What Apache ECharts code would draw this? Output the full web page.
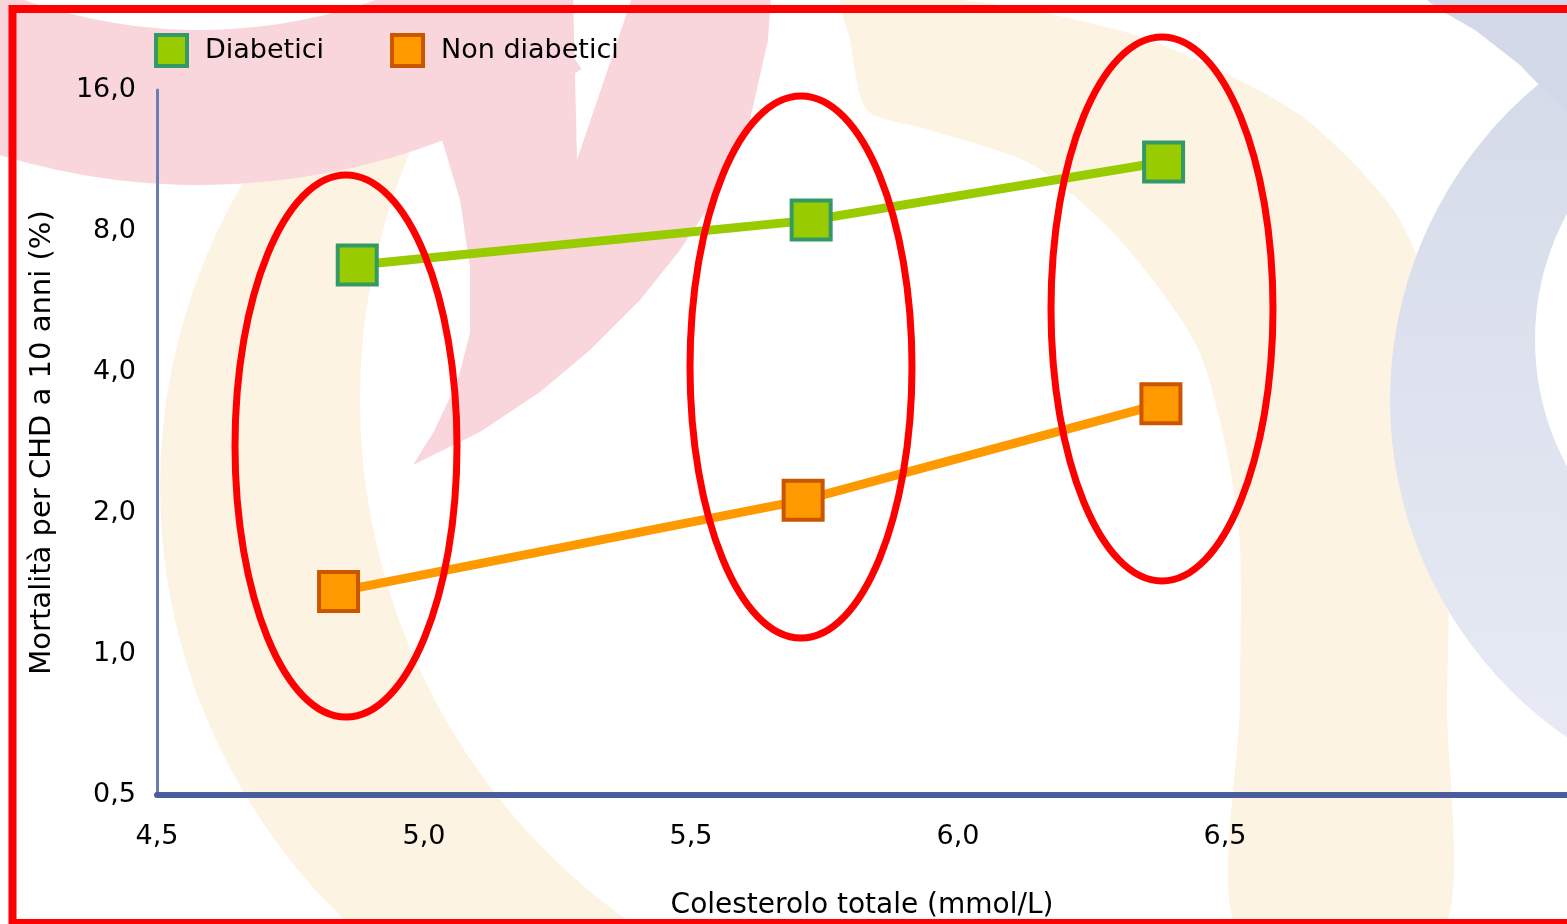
<!DOCTYPE html>
<html><head><meta charset="utf-8">
<script src="https://cdn.jsdelivr.net/npm/echarts@6/dist/echarts.min.js"></script>
<style>html,body{margin:0;padding:0;background:#fff}#chart{width:1567px;height:924px}</style>
</head><body><div id="chart"></div>
<script>
const seriesNames = ['Diabetici', 'Non diabetici'];
const cholesterolDiabetici = [4.875, 5.725, 6.385];
const mortalityDiabetici = [6.77, 8.44, 11.23];
const cholesterolNonDiabetici = [4.84, 5.71, 6.38];
const mortalityNonDiabetici = [1.36, 2.13, 3.42];
const xTickLabels = ['4,5', '5,0', '5,5', '6,0', '6,5'];
const yTickLabels = ['0,5', '1,0', '2,0', '4,0', '8,0', '16,0'];
const xAxisTitle = 'Colesterolo totale (mmol/L)';
const yAxisTitle = 'Mortalità per CHD a 10 anni (%)';

const FONT = 'DejaVu Sans';
const chart = echarts.init(document.getElementById('chart'), null, {renderer: 'canvas'});

function pairs(xs, ys) { return xs.map((x, i) => [x, ys[i]]); }
function fmt(v) { return v.toFixed(1).replace('.', ','); }

const cream = '#fdf3e3';
const pink = '#f9d6dc';
const bg = [
  // left cream crescent (outer disc minus inner white disc)
  {type: 'circle', silent: true, z: -30, shape: {cx: 760, cy: 487, r: 600}, style: {fill: cream}},
  {type: 'circle', silent: true, z: -29, shape: {cx: 1000, cy: 400, r: 640}, style: {fill: '#ffffff'}},
  // right cream band
  {type: 'polygon', silent: true, z: -28, shape: {smooth: 0.25, points: [[843,-5],[1000,5],[1150,40],[1300,115],[1397,215],[1440,330],[1450,480],[1447,700],[1440,935],[1240,935],[1240,700],[1238,520],[1200,353],[1120,240],[1033,165],[930,130],[867,110],[850,40]]}, style: {fill: cream}},
  // pink band and wedge
  {type: 'sector', silent: true, z: -20, shape: {cx: 200, cy: -500, r0: 530, r: 685, startAngle: 0.98, endAngle: 2.4}, style: {fill: pink}},
  {type: 'polygon', silent: true, z: -20, shape: {points: [[390,-5],[573,-5],[577,160],[633,-5],[771,-5],[768,40],[750,120],[720,190],[680,250],[640,300],[590,350],[540,392],[480,432],[413,465],[433,433],[457,383],[470,333],[470,267],[460,200],[440,133]]}, style: {fill: pink}},
  // blue ring
  {type: 'circle', silent: true, z: -16, shape: {cx: 1800, cy: 400, r: 410}, style: {fill: new echarts.graphic.LinearGradient(0, 0, 0, 1, [{offset: 0, color: '#d3d9e8'}, {offset: 1, color: '#e9ecf5'}])}},
  {type: 'polygon', silent: true, z: -16, shape: {points: [[1420,-5],[1567,-5],[1567,112],[1540,86],[1520,65],[1475,30],[1440,10]]}, style: {fill: '#d3d9e8'}},
  {type: 'circle', silent: true, z: -15, shape: {cx: 1800, cy: 340, r: 265}, style: {fill: '#ffffff'}}
];
const marks = [
  {type: 'ellipse', silent: true, z: 100, shape: {cx: 346, cy: 446, rx: 111, ry: 271}, style: {fill: null, stroke: '#ff0000', lineWidth: 7}},
  {type: 'ellipse', silent: true, z: 100, shape: {cx: 801, cy: 367, rx: 111, ry: 271}, style: {fill: null, stroke: '#ff0000', lineWidth: 7}},
  {type: 'ellipse', silent: true, z: 100, shape: {cx: 1162, cy: 309, rx: 111, ry: 272}, style: {fill: null, stroke: '#ff0000', lineWidth: 7}},
  {type: 'rect', silent: true, z: 110, shape: {x: 12.5, y: 9, width: 1600, height: 914}, style: {fill: null, stroke: '#ff0000', lineWidth: 8}}
];

const option = {
  backgroundColor: '#ffffff',
  animation: false,
  graphic: {elements: bg.concat(marks)},
  legend: {
    left: 154, top: 33, padding: 0,
    itemWidth: 31, itemHeight: 31, itemGap: 66,
    textStyle: {fontFamily: FONT, fontSize: 27, color: '#000', padding: [0, 0, 0, 13]},
    data: [
      {name: seriesNames[0], icon: 'rect', itemStyle: {color: '#99cc00', borderColor: '#339966', borderWidth: 4}},
      {name: seriesNames[1], icon: 'rect', itemStyle: {color: '#ff9900', borderColor: '#cc5500', borderWidth: 4}}
    ]
  },
  grid: {left: 157, right: 0, top: 90, bottom: 129, containLabel: false, outerBoundsMode: 'none'},
  xAxis: {
    type: 'value', min: 4.5, max: 4.5 + 1410 / 534, interval: 0.5,
    splitLine: {show: false},
    axisTick: {show: false},
    axisLine: {show: true, lineStyle: {color: '#4a5e9c', width: 6}},
    axisLabel: {
      fontFamily: FONT, fontSize: 27, color: '#000', margin: 28,
      formatter: v => { const i = Math.round((v - 4.5) / 0.5); return (Math.abs(v - (4.5 + i * 0.5)) < 1e-6 && i < xTickLabels.length) ? xTickLabels[i] : ''; }
    },
    name: xAxisTitle, nameLocation: 'middle', nameGap: 97,
    nameTextStyle: {fontFamily: FONT, fontSize: 28, color: '#000'}
  },
  yAxis: {
    type: 'log', logBase: 2, min: 0.5, max: 16,
    splitLine: {show: false},
    axisTick: {show: false},
    axisLine: {show: true, lineStyle: {color: '#6a7db5', width: 3}},
    axisLabel: {
      fontFamily: FONT, fontSize: 27, color: '#000', margin: 21,
      formatter: v => { const i = Math.round(Math.log2(v) + 1); return yTickLabels[i] !== undefined ? yTickLabels[i] : fmt(v); }
    },
    name: yAxisTitle, nameLocation: 'middle', nameRotate: 90, nameGap: 100,
    nameTextStyle: {fontFamily: FONT, fontSize: 29, color: '#000'}
  },
  series: [
    {
      name: seriesNames[1], type: 'line', data: pairs(cholesterolNonDiabetici, mortalityNonDiabetici),
      symbol: 'rect', symbolSize: 39,
      itemStyle: {color: '#ff9900', borderColor: '#cc5500', borderWidth: 4},
      lineStyle: {color: '#ff9900', width: 9}, z: 3
    },
    {
      name: seriesNames[0], type: 'line', data: pairs(cholesterolDiabetici, mortalityDiabetici),
      symbol: 'rect', symbolSize: 39,
      itemStyle: {color: '#99cc00', borderColor: '#339966', borderWidth: 4},
      lineStyle: {color: '#99cc00', width: 9}, z: 3
    }
  ]
};
chart.setOption(option);
</script></body></html>
